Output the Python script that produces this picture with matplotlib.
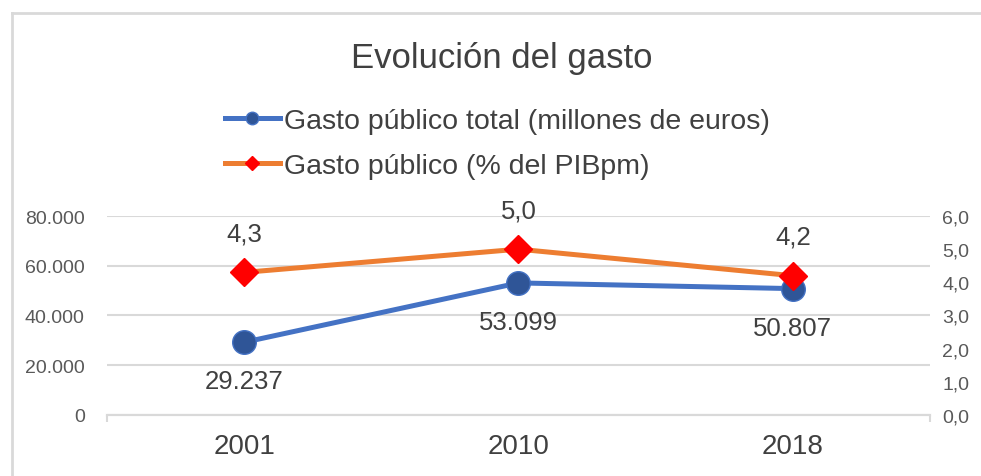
import matplotlib
matplotlib.use("Agg")
from matplotlib import pyplot as plt
from matplotlib.lines import Line2D

plt.rcParams['font.family'] = ['Liberation Sans', 'DejaVu Sans']

years = ['2001', '2010', '2018']
gasto_total = [29237, 53099, 50807]       # millones de euros
gasto_pib = [4.3, 5.0, 4.2]               # % del PIBpm
labels_total = ['29.237', '53.099', '50.807']
labels_pib = ['4,3', '5,0', '4,2']
left_ticks = [0, 20000, 40000, 60000, 80000]
left_ticklabels = ['0', '20.000', '40.000', '60.000', '80.000']
right_ticks = [0, 1, 2, 3, 4, 5, 6]
right_ticklabels = ['0,0', '1,0', '2,0', '3,0', '4,0', '5,0', '6,0']

blue = '#4472C4'
blue_dark = '#2F5597'
orange = '#ED7D31'
txt = '#404040'
grid = '#D9D9D9'

fig = plt.figure(figsize=(9.81, 4.77), dpi=100)
ax = fig.add_axes([0.109, 0.128, 0.839, 0.417])
ax2 = ax.twinx()

xs = range(len(years))
ax.plot(xs, gasto_total, '-', color=blue, lw=3.6, marker='o', ms=17,
        mfc=blue_dark, mec=blue, zorder=3)
ax2.plot(xs, gasto_pib, '-', color=orange, lw=3.6, marker='D', ms=14,
         mfc='#FF0000', mec='#FF0000', zorder=3)

for x, v, l in zip(xs, gasto_total, labels_total):
    ax.annotate(l, (x, v), xytext=(0, -28), textcoords='offset points',
                ha='center', va='center', fontsize=18.5, color=txt)
for x, v, l in zip(xs, gasto_pib, labels_pib):
    ax2.annotate(l, (x, v), xytext=(0, 28), textcoords='offset points',
                 ha='center', va='center', fontsize=18.5, color=txt)

ax.set_xlim(-0.5, 2.5)
ax.set_ylim(0, 80000)
ax2.set_ylim(0, 6)
ax.set_xticks(list(xs))
ax.set_xticklabels(years, fontsize=20, color=txt)
ax.set_xticks([-0.5, 2.5], minor=True)
ax.tick_params(axis='x', which='major', length=0, pad=13)
ax.tick_params(axis='x', which='minor', length=5, color=grid, width=1.5)
ax.set_yticks(left_ticks)
ax.set_yticklabels(left_ticklabels, fontsize=14, color='#595959')
ax.tick_params(axis='y', length=0, pad=16)
ax2.set_yticks(right_ticks)
ax2.set_yticklabels(right_ticklabels, fontsize=14, color='#595959')
ax2.tick_params(axis='y', length=0, pad=9)

ax.grid(axis='y', color=grid, lw=1.5)
ax.set_axisbelow(True)
for a in (ax, ax2):
    for s in ('top', 'left', 'right'):
        a.spines[s].set_visible(False)
    a.spines['bottom'].set_color(grid)
    a.spines['bottom'].set_linewidth(1.5)

fig.text(0.511, 0.878, 'Evolución del gasto', ha='center', va='center',
         fontsize=25, color=txt)

h1 = Line2D([], [], color=blue, lw=3.6, marker='o', ms=9, mfc=blue_dark, mec=blue)
h2 = Line2D([], [], color=orange, lw=3.6, marker='D', ms=7, mfc='#FF0000', mec='#FF0000')
fig.legend([h1, h2], ['Gasto público total (millones de euros)',
                      'Gasto público (% del PIBpm)'],
           loc='upper left', bbox_to_anchor=(0.229, 0.772), frameon=False,
           fontsize=20.5, labelcolor=txt, handlelength=1.95, handletextpad=0.15,
           labelspacing=0.68, borderaxespad=0, borderpad=0)

fig.add_artist(Line2D([0.012, 1.0], [0.971, 0.971], color=grid, lw=2,
                      transform=fig.transFigure))
fig.add_artist(Line2D([0.012, 0.012], [0.0, 0.971], color=grid, lw=2,
                      transform=fig.transFigure))

fig.savefig('out.png', dpi=100)
